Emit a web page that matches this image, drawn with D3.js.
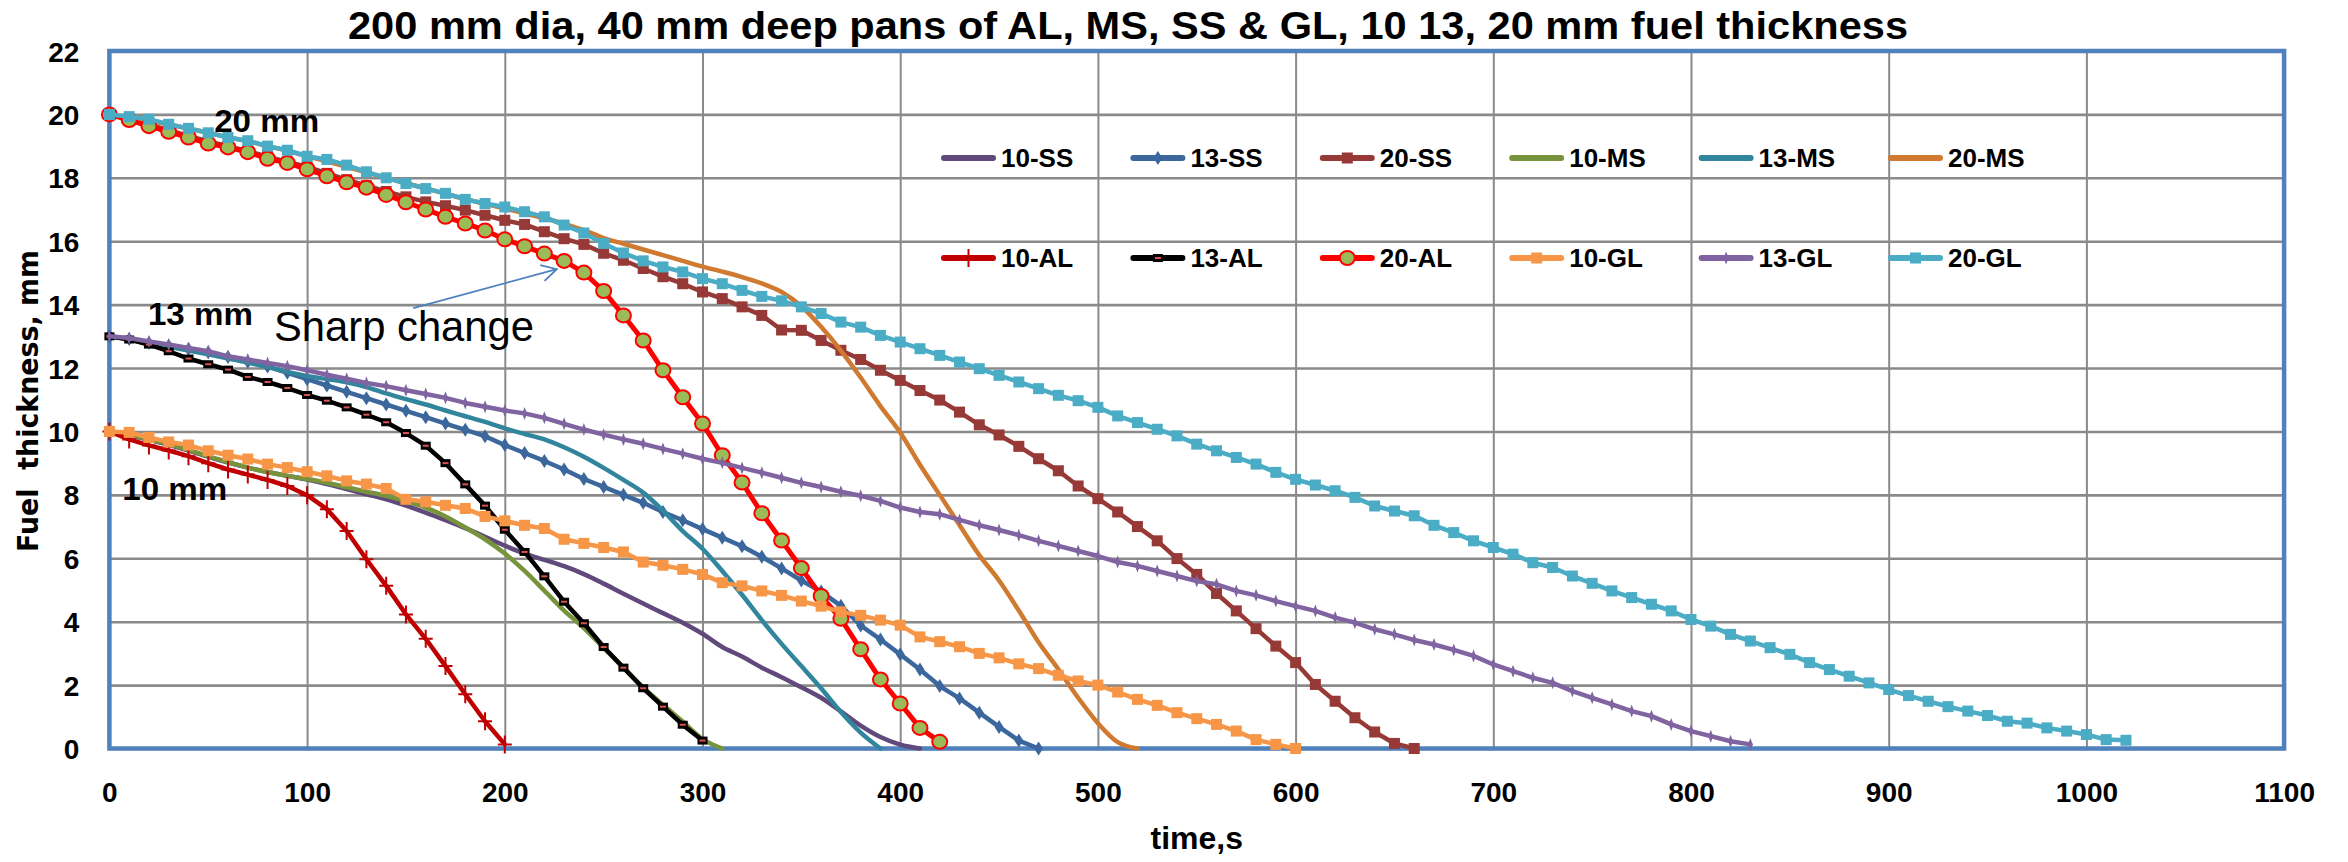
<!DOCTYPE html>
<html><head><meta charset="utf-8">
<script src="https://cdn.jsdelivr.net/npm/d3@7"></script>
<style>body{margin:0;background:#fff}svg{display:block}</style>
</head><body>
<svg id="chart" width="2348" height="862"></svg>
<script>
// ---- data (thickness in mm, readings every 10 s starting at t = 0) ----
const seriesNames = ["10-SS","13-SS","20-SS","10-MS","13-MS","20-MS","10-AL","13-AL","20-AL","10-GL","13-GL","20-GL"];
const ss10 = [10.0,9.88,9.74,9.58,9.4,9.2,9.02,8.86,8.72,8.6,8.48,8.34,8.18,8.02,7.86,7.66,7.44,7.2,6.95,6.68,6.4,6.15,5.95,5.75,5.5,5.2,4.88,4.57,4.27,3.97,3.62,3.2,2.9,2.55,2.25,1.93,1.6,1.17,0.72,0.36,0.12,0.0];
const ss13 = [13.0,12.92,12.8,12.7,12.6,12.5,12.35,12.2,12.05,11.85,11.65,11.45,11.25,11.05,10.85,10.65,10.45,10.25,10.05,9.85,9.57,9.32,9.07,8.8,8.5,8.25,8.0,7.75,7.46,7.2,6.92,6.65,6.38,6.05,5.68,5.3,4.95,4.5,3.88,3.44,2.97,2.49,1.97,1.58,1.13,0.68,0.25,0.0];
const ss20 = [20.0,19.85,19.68,19.5,19.32,19.15,19.0,18.84,18.67,18.5,18.35,18.14,17.94,17.75,17.57,17.4,17.24,17.12,16.98,16.82,16.66,16.53,16.3,16.08,15.9,15.62,15.4,15.14,14.88,14.66,14.4,14.19,13.93,13.66,13.2,13.19,12.87,12.56,12.27,11.93,11.61,11.29,10.99,10.61,10.21,9.89,9.53,9.14,8.76,8.28,7.88,7.46,7.0,6.55,5.99,5.49,4.89,4.34,3.78,3.23,2.71,2.02,1.49,0.97,0.52,0.16,0.0];
const ms10 = [10.0,9.9,9.75,9.6,9.42,9.22,9.03,8.86,8.72,8.6,8.5,8.38,8.24,8.1,7.97,7.8,7.6,7.32,6.97,6.6,6.15,5.6,4.98,4.35,3.8,3.17,2.55,1.93,1.38,0.85,0.3,0.0];
const ms13 = [13.0,12.9,12.78,12.67,12.55,12.43,12.3,12.17,12.03,11.88,11.75,11.65,11.55,11.4,11.2,11.02,10.85,10.66,10.48,10.3,10.1,9.92,9.75,9.5,9.2,8.85,8.47,8.07,7.5,6.86,6.3,5.6,4.85,4.05,3.3,2.6,1.9,1.15,0.5,0.0];
const ms20 = [20.0,19.9,19.8,19.68,19.55,19.42,19.28,19.15,19.0,18.85,18.68,18.52,18.35,18.17,18.0,17.83,17.67,17.5,17.33,17.18,17.03,16.88,16.72,16.55,16.35,16.1,15.92,15.74,15.56,15.38,15.2,15.04,14.87,14.67,14.4,13.95,13.3,12.55,11.7,10.8,9.97,8.95,8.0,7.05,6.1,5.3,4.35,3.35,2.5,1.6,0.8,0.2,0.0];
const al10 = [10.0,9.75,9.56,9.4,9.22,9.0,8.8,8.64,8.47,8.28,7.99,7.55,6.86,5.97,5.13,4.23,3.46,2.6,1.71,0.86,0.13];
const al13 = [13.0,12.9,12.74,12.53,12.3,12.12,11.95,11.72,11.56,11.37,11.15,10.97,10.76,10.53,10.29,9.95,9.55,9.0,8.33,7.66,6.9,6.2,5.43,4.63,3.95,3.2,2.55,1.9,1.32,0.75,0.25];
const al20 = [20.0,19.82,19.63,19.45,19.27,19.08,18.96,18.81,18.6,18.47,18.27,18.05,17.86,17.69,17.46,17.23,17.0,16.77,16.56,16.34,16.06,15.84,15.61,15.38,15.01,14.43,13.66,12.87,11.93,11.08,10.25,9.25,8.39,7.42,6.56,5.69,4.81,4.09,3.13,2.18,1.42,0.65,0.21];
const gl10 = [10.0,9.97,9.81,9.67,9.57,9.39,9.25,9.13,8.97,8.86,8.73,8.6,8.44,8.34,8.2,7.86,7.78,7.67,7.57,7.32,7.18,7.04,6.94,6.6,6.47,6.34,6.2,5.88,5.78,5.65,5.49,5.23,5.13,4.97,4.83,4.65,4.49,4.31,4.2,4.05,3.89,3.52,3.37,3.21,3.0,2.86,2.67,2.52,2.31,2.13,2.0,1.78,1.55,1.36,1.13,0.94,0.76,0.55,0.28,0.13,0.0];
const gl13 = [13.0,12.95,12.84,12.74,12.63,12.53,12.37,12.27,12.16,12.06,11.93,11.79,11.66,11.53,11.43,11.3,11.18,11.06,10.9,10.78,10.66,10.57,10.43,10.24,10.06,9.9,9.75,9.61,9.45,9.3,9.14,9.01,8.85,8.7,8.54,8.38,8.25,8.1,7.97,7.81,7.6,7.46,7.39,7.21,7.04,6.89,6.73,6.55,6.39,6.23,6.07,5.88,5.76,5.6,5.44,5.28,5.18,4.97,4.83,4.65,4.49,4.34,4.13,3.97,3.76,3.6,3.42,3.28,3.11,2.92,2.65,2.44,2.23,2.07,1.81,1.6,1.39,1.18,1.02,0.76,0.55,0.39,0.23,0.13];
const gl20 = [20.0,19.93,19.85,19.69,19.56,19.42,19.27,19.17,19.0,18.87,18.68,18.58,18.4,18.19,18.0,17.82,17.66,17.51,17.32,17.19,17.08,16.93,16.77,16.51,16.26,15.93,15.63,15.38,15.19,15.03,14.82,14.66,14.45,14.26,14.12,13.93,13.72,13.45,13.29,13.03,12.82,12.61,12.4,12.19,11.98,11.77,11.56,11.35,11.14,10.97,10.76,10.49,10.28,10.07,9.86,9.6,9.39,9.18,8.97,8.71,8.49,8.31,8.13,7.92,7.65,7.49,7.34,7.04,6.81,6.55,6.34,6.13,5.86,5.71,5.44,5.21,4.97,4.76,4.55,4.34,4.07,3.86,3.6,3.39,3.18,2.97,2.71,2.49,2.28,2.07,1.86,1.67,1.49,1.32,1.18,1.04,0.86,0.8,0.65,0.55,0.44,0.28,0.26];
const sampleStep = 10; // s between readings
const xTicks = [0,100,200,300,400,500,600,700,800,900,1000,1100];
const yTicks = [0,2,4,6,8,10,12,14,16,18,20,22];
const titleText = "200 mm dia, 40 mm deep pans of AL, MS, SS & GL, 10 13, 20 mm fuel thickness";
const xTitle = "time,s";
const yTitle = "Fuel  thickness, mm";
const noteLabels = [{text:"20 mm", t:53, v:19.45}, {text:"13 mm", t:19.5, v:13.36}, {text:"10 mm", t:6.5, v:7.84}];
const arrowNote = {text:"Sharp change", from:[153.7,13.89], to:[226.3,15.12]};

// ---- styles ----
const styles = {
  "10-SS":{color:"#604a7b", marker:null, smooth:true},
  "13-SS":{color:"#3b679d", marker:"diamond"},
  "20-SS":{color:"#973a37", marker:"square"},
  "10-MS":{color:"#77933c", marker:null, smooth:true},
  "13-MS":{color:"#31859c", marker:null, smooth:true},
  "20-MS":{color:"#cf7a30", marker:null, smooth:true},
  "10-AL":{color:"#c00000", marker:"plus"},
  "13-AL":{color:"#000000", marker:"dash"},
  "20-AL":{color:"#ff0000", marker:"circle"},
  "10-GL":{color:"#f79646", marker:"square"},
  "13-GL":{color:"#8064a2", marker:"tick"},
  "20-GL":{color:"#4bacc6", marker:"square"}
};
const valuesByName = {"10-SS":ss10,"13-SS":ss13,"20-SS":ss20,"10-MS":ms10,"13-MS":ms13,"20-MS":ms20,
  "10-AL":al10,"13-AL":al13,"20-AL":al20,"10-GL":gl10,"13-GL":gl13,"20-GL":gl20};

const plot = {left:109.4, right:2284.1, top:51, bottom:748.5};
const x = d3.scaleLinear().domain([0,1100]).range([plot.left, plot.right]);
const y = d3.scaleLinear().domain([0,22]).range([plot.bottom, plot.top]);
const svg = d3.select("#chart");
const BOLD = "'Liberation Sans', Arial, sans-serif";

// gridlines
const gx = svg.append("g").attr("transform",`translate(0,${plot.bottom})`)
  .call(d3.axisBottom(x).tickValues(xTicks).tickSize(-(plot.bottom-plot.top)).tickFormat(""));
gx.select(".domain").remove();
gx.selectAll("line").attr("stroke","#8a8a8a").attr("stroke-width",2);
const gy = svg.append("g").attr("transform",`translate(${plot.left},0)`)
  .call(d3.axisLeft(y).tickValues(yTicks).tickSize(-(plot.right-plot.left)).tickFormat(""));
gy.select(".domain").remove();
gy.selectAll("line").attr("stroke","#8a8a8a").attr("stroke-width",2.6);

// tick labels
const ax = svg.append("g").attr("transform",`translate(0,${plot.bottom})`)
  .call(d3.axisBottom(x).tickValues(xTicks).tickFormat(d3.format("d")).tickSize(0).tickPadding(0));
ax.select(".domain").remove();
ax.attr("font-family",BOLD).attr("font-size",28).attr("font-weight","bold");
ax.selectAll("text").attr("y",53.5).attr("dy",0).attr("fill","#000");
const ay = svg.append("g").attr("transform",`translate(${plot.left},0)`)
  .call(d3.axisLeft(y).tickValues(yTicks).tickFormat(d3.format("d")).tickSize(0).tickPadding(30));
ay.select(".domain").remove();
ay.attr("font-family",BOLD).attr("font-size",28).attr("font-weight","bold");
ay.selectAll("text").attr("dy","0.36em").attr("fill","#000");

// border
svg.append("rect").attr("x",plot.left).attr("y",plot.top)
  .attr("width",plot.right-plot.left).attr("height",plot.bottom-plot.top)
  .attr("fill","none").attr("stroke","#4f81bd").attr("stroke-width",4.5);

// markers
function marker(g, type, color, cx, cy){
  switch(type){
    case "diamond": g.append("path").attr("d",`M${cx},${cy-7}L${cx+4.5},${cy}L${cx},${cy+7}L${cx-4.5},${cy}Z`).attr("fill",color); break;
    case "square": g.append("rect").attr("x",cx-5.5).attr("y",cy-5.5).attr("width",11).attr("height",11).attr("fill",color); break;
    case "plus": g.append("path").attr("d",`M${cx},${cy-9}V${cy+9}M${cx-7},${cy}H${cx+7}`).attr("stroke",color).attr("stroke-width",2).attr("fill","none"); break;
    case "dash": g.append("rect").attr("x",cx-5).attr("y",cy-4).attr("width",10).attr("height",8).attr("fill","#000");
                 g.append("rect").attr("x",cx-3).attr("y",cy-1).attr("width",6).attr("height",2).attr("fill","#d9534f"); break;
    case "circle": g.append("ellipse").attr("cx",cx).attr("cy",cy).attr("rx",7.5).attr("ry",7).attr("fill","#9bbb59").attr("stroke","#ff0000").attr("stroke-width",2); break;
    case "tick": g.append("path").attr("d",`M${cx},${cy-6.5}L${cx+2.5},${cy}L${cx},${cy+6.5}L${cx-2.5},${cy}Z`).attr("fill",color); break;
  }
}

// series
const lineGen = d3.line().x(d=>x(d[0])).y(d=>y(d[1]));
seriesNames.forEach(name=>{
  const st = styles[name];
  const pts = valuesByName[name].map((v,i)=>[i*sampleStep, v]);
  const g = svg.append("g");
  g.append("path").datum(pts)
    .attr("d", lineGen.curve(st.smooth ? d3.curveMonotoneX : d3.curveLinear)(pts))
    .attr("fill","none").attr("stroke",st.color)
    .attr("stroke-width", name==="20-AL" ? 5 : 4.5)
    .attr("stroke-linejoin","round").attr("stroke-linecap","round");
  if(st.marker) pts.forEach(p=>marker(g, st.marker, st.color, x(p[0]), y(p[1])));
});

// legend (2 rows x 6)
const legendX0 = 941, legendDX = 189.4, legendRows = [158, 258];
seriesNames.forEach((name,i)=>{
  const st = styles[name];
  const lx = legendX0 + (i%6)*legendDX, ly = legendRows[Math.floor(i/6)];
  const g = svg.append("g");
  g.append("line").attr("x1",lx+3).attr("x2",lx+52).attr("y1",ly).attr("y2",ly)
    .attr("stroke",st.color).attr("stroke-width",6).attr("stroke-linecap","round");
  if(st.marker) marker(g, st.marker, st.color, lx+27.5, ly);
  g.append("text").attr("x",lx+60).attr("y",ly).attr("dy","0.36em")
    .attr("font-family",BOLD).attr("font-weight","bold").attr("font-size",26).text(name);
});

// title & axis titles
svg.append("text").attr("x",348).attr("y",39).attr("font-family",BOLD).attr("font-weight","bold")
  .attr("font-size",38).attr("textLength",1560).attr("lengthAdjust","spacingAndGlyphs").text(titleText);
svg.append("text").attr("x",(plot.left+plot.right)/2).attr("y",849).attr("text-anchor","middle")
  .attr("font-family",BOLD).attr("font-weight","bold").attr("font-size",32).text(xTitle);
svg.append("text").attr("transform","translate(38,401) rotate(-90)").attr("text-anchor","middle")
  .style("white-space","pre").attr("font-family","'DejaVu Sans', Verdana, sans-serif").attr("font-weight","bold")
  .attr("font-size",28).attr("textLength",302).attr("lengthAdjust","spacingAndGlyphs").text(yTitle);

// annotations
noteLabels.forEach(n=>{
  svg.append("text").attr("x",x(n.t)).attr("y",y(n.v)).attr("font-family",BOLD).attr("font-weight","bold")
    .attr("font-size",32).attr("textLength",105).attr("lengthAdjust","spacingAndGlyphs").text(n.text);
});
svg.append("text").attr("x",274).attr("y",341).attr("font-family",BOLD).attr("font-size",42)
  .attr("textLength",260).attr("lengthAdjust","spacingAndGlyphs").text(arrowNote.text);
const ax0 = x(arrowNote.from[0]), ay0 = y(arrowNote.from[1]), ax1 = x(arrowNote.to[0]), ay1 = y(arrowNote.to[1]);
const ang = Math.atan2(ay1-ay0, ax1-ax0), hl = 17, ha = 0.5;
svg.append("path")
  .attr("d",`M${ax0},${ay0}L${ax1},${ay1}M${ax1-hl*Math.cos(ang-ha)},${ay1-hl*Math.sin(ang-ha)}L${ax1},${ay1}L${ax1-hl*Math.cos(ang+ha)},${ay1-hl*Math.sin(ang+ha)}`)
  .attr("fill","none").attr("stroke","#4f81bd").attr("stroke-width",1.8);
</script>
</body></html>
